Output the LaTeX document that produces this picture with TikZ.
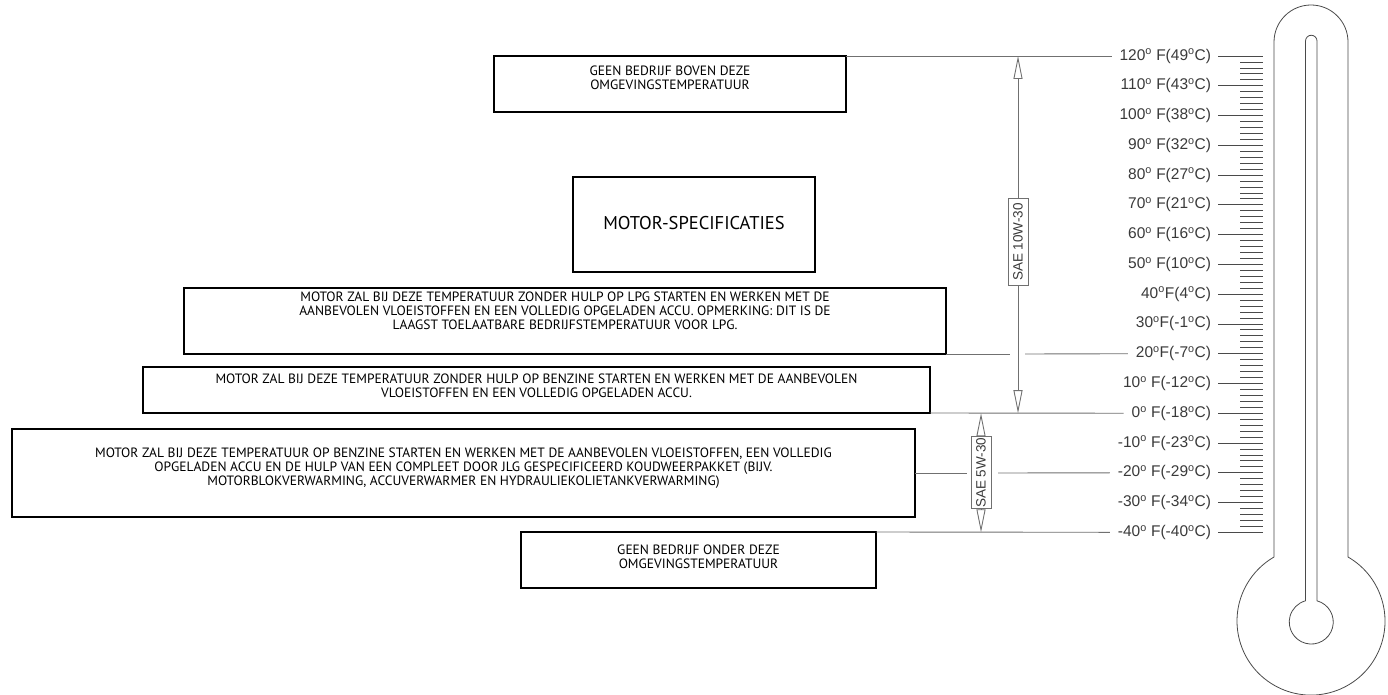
\documentclass[tikz,border=0pt]{standalone}
\usepackage{fontspec}
\setmainfont{Liberation Sans}
\newfontfamily\boxfont{PT Sans}
\usetikzlibrary{arrows.meta}
\definecolor{txtgray}{HTML}{3A3A3A}
\definecolor{lngray}{HTML}{707070}
\definecolor{thgray}{HTML}{4A4A4A}
\newcommand{\dg}{\textsuperscript{o}}
\begin{document}
\begin{tikzpicture}[x=1pt,y=-1pt,
  every node/.style={inner sep=0pt, outer sep=0pt},
  bx/.style={draw=black, line width=1.8pt, inner sep=0pt},
  btxt/.style={font=\boxfont\fontsize{13.5}{14.2}\selectfont, align=center, text=black},
  tlab/.style={anchor=east, font=\fontsize{15.5}{18}\selectfont, text=txtgray, inner sep=0pt},
  gline/.style={draw=lngray, line width=0.9pt},
  tickline/.style={draw=thgray, line width=0.8pt},
  therm/.style={draw=thgray, line width=0.8pt},
  sae/.style={draw=lngray, fill=white, line width=0.9pt, rotate=90, font=\fontsize{13.5}{16}\selectfont, text=txtgray, minimum height=20pt, inner ysep=0pt},
  dimarrow/.style={draw=lngray, line width=0.9pt, {Triangle[open,length=23pt,width=9pt]}-{Triangle[open,length=23pt,width=9pt]}},
]
\useasboundingbox (0,0) rectangle (1388,695);

% boxes
\node[bx, minimum width=352pt, minimum height=56pt] (b1) at (670,84) {};
\node[btxt] (t1) at (670,78) {GEEN BEDRIJF BOVEN DEZE\\OMGEVINGSTEMPERATUUR};
\node[bx, minimum width=242pt, minimum height=95pt] (b2) at (694,224.5) {};
\node[font=\boxfont\fontsize{18.5}{20}\selectfont, text=black] (t2) at (694,223) {MOTOR-SPECIFICATIES};
\node[bx, minimum width=762pt, minimum height=66pt] (b3) at (565,321) {};
\node[btxt] (t3) at (565,311) {MOTOR ZAL BIJ DEZE TEMPERATUUR ZONDER HULP OP LPG STARTEN EN WERKEN MET DE\\AANBEVOLEN VLOEISTOFFEN EN EEN VOLLEDIG OPGELADEN ACCU. OPMERKING: DIT IS DE\\LAAGST TOELAATBARE BEDRIJFSTEMPERATUUR VOOR LPG.};
\node[bx, minimum width=787pt, minimum height=46pt] (b4) at (536.5,390) {};
\node[btxt] (t4) at (536.5,386) {MOTOR ZAL BIJ DEZE TEMPERATUUR ZONDER HULP OP BENZINE STARTEN EN WERKEN MET DE AANBEVOLEN\\VLOEISTOFFEN EN EEN VOLLEDIG OPGELADEN ACCU.};
\node[bx, minimum width=903pt, minimum height=88pt] (b5) at (463.5,473) {};
\node[btxt] (t5) at (463.5,468) {MOTOR ZAL BIJ DEZE TEMPERATUUR OP BENZINE STARTEN EN WERKEN MET DE AANBEVOLEN VLOEISTOFFEN, EEN VOLLEDIG\\OPGELADEN ACCU EN DE HULP VAN EEN COMPLEET DOOR JLG GESPECIFICEERD KOUDWEERPAKKET (BIJV.\\MOTORBLOKVERWARMING, ACCUVERWARMER EN HYDRAULIEKOLIETANKVERWARMING)};
\node[bx, minimum width=355pt, minimum height=56pt] (b6) at (698.5,560) {};
\node[btxt] (t6) at (698.5,557) {GEEN BEDRIJF ONDER DEZE\\OMGEVINGSTEMPERATUUR};

% scale labels
\node[tlab] (l120) at (1211,56.00) {120\dg\ F(49\dg C)};
\node[tlab] (l110) at (1211,85.77) {110\dg\ F(43\dg C)};
\node[tlab] (l100) at (1211,115.54) {100\dg\ F(38\dg C)};
\node[tlab] (l90) at (1211,145.31) {90\dg\ F(32\dg C)};
\node[tlab] (l80) at (1211,175.08) {80\dg\ F(27\dg C)};
\node[tlab] (l70) at (1211,204.85) {70\dg\ F(21\dg C)};
\node[tlab] (l60) at (1211,234.62) {60\dg\ F(16\dg C)};
\node[tlab] (l50) at (1211,264.39) {50\dg\ F(10\dg C)};
\node[tlab] (l40) at (1211,294.16) {40\dg F(4\dg C)};
\node[tlab] (l30) at (1211,323.93) {30\dg F(-1\dg C)};
\node[tlab] (l20) at (1211,353.70) {20\dg F(-7\dg C)};
\node[tlab] (l10) at (1211,383.47) {10\dg\ F(-12\dg C)};
\node[tlab] (l0) at (1211,413.24) {0\dg\ F(-18\dg C)};
\node[tlab] (lm10) at (1211,443.01) {-10\dg\ F(-23\dg C)};
\node[tlab] (lm20) at (1211,472.78) {-20\dg\ F(-29\dg C)};
\node[tlab] (lm30) at (1211,502.55) {-30\dg\ F(-34\dg C)};
\node[tlab] (lm40) at (1211,532.32) {-40\dg\ F(-40\dg C)};

% ticks
\foreach \k in {0,...,80} \draw[tickline] (1240,{56+5.954*\k}) -- (1263,{56+5.954*\k});
\foreach \k in {0,...,16} \draw[tickline] (1218,{56+29.77*\k}) -- (1263,{56+29.77*\k});

% thermometer
\draw[therm] (1274,557) -- (1274,42) arc[start angle=180, end angle=360, radius=37] -- (1348,557) arc[start angle=-60, end angle=240, radius=74] -- cycle;
\draw[therm] (1305.5,600.8) -- (1305.5,41) arc[start angle=180, end angle=360, radius=5.75] -- (1317,600.8) arc[start angle=-74.84, end angle=254.84, radius=22] -- cycle;

% horizontal connectors
\coordinate (g1) at (1010,354);
\coordinate (g2) at (1025,354);
\coordinate (g3) at (967,473);
\coordinate (g4) at (998,473);
\draw[gline, shorten >=8pt] (b1.north east) -- (l120.west);
\draw[gline] (b3.south east) -- (b3.south east -| g1);
\draw[gline, shorten >=8pt] (g2) -- (l20.west);
\draw[gline, shorten >=8pt] (b4.south east) -- (l0.west);
\draw[gline] (b5.east) -- (g3);
\draw[gline, shorten >=8pt] (g4) -- (lm20.west);
\draw[gline, shorten >=8pt] (b6.north east) -- (lm40.west);

% dimension arrows
\coordinate (a1t) at (1018,56);
\coordinate (a1b) at (1018,413.24);
\coordinate (a2t) at (981,413.24);
\coordinate (a2b) at (981,532.32);
\draw[dimarrow] (a1t) -- (a1b);
\draw[dimarrow] (a2t) -- (a2b);
\node[sae, inner xsep=5pt] (s1) at (1018,242) {SAE 10W-30};
\node[sae, inner xsep=1pt] (s2) at (981,472.8) {SAE 5W-30};
\end{tikzpicture}
\end{document}
